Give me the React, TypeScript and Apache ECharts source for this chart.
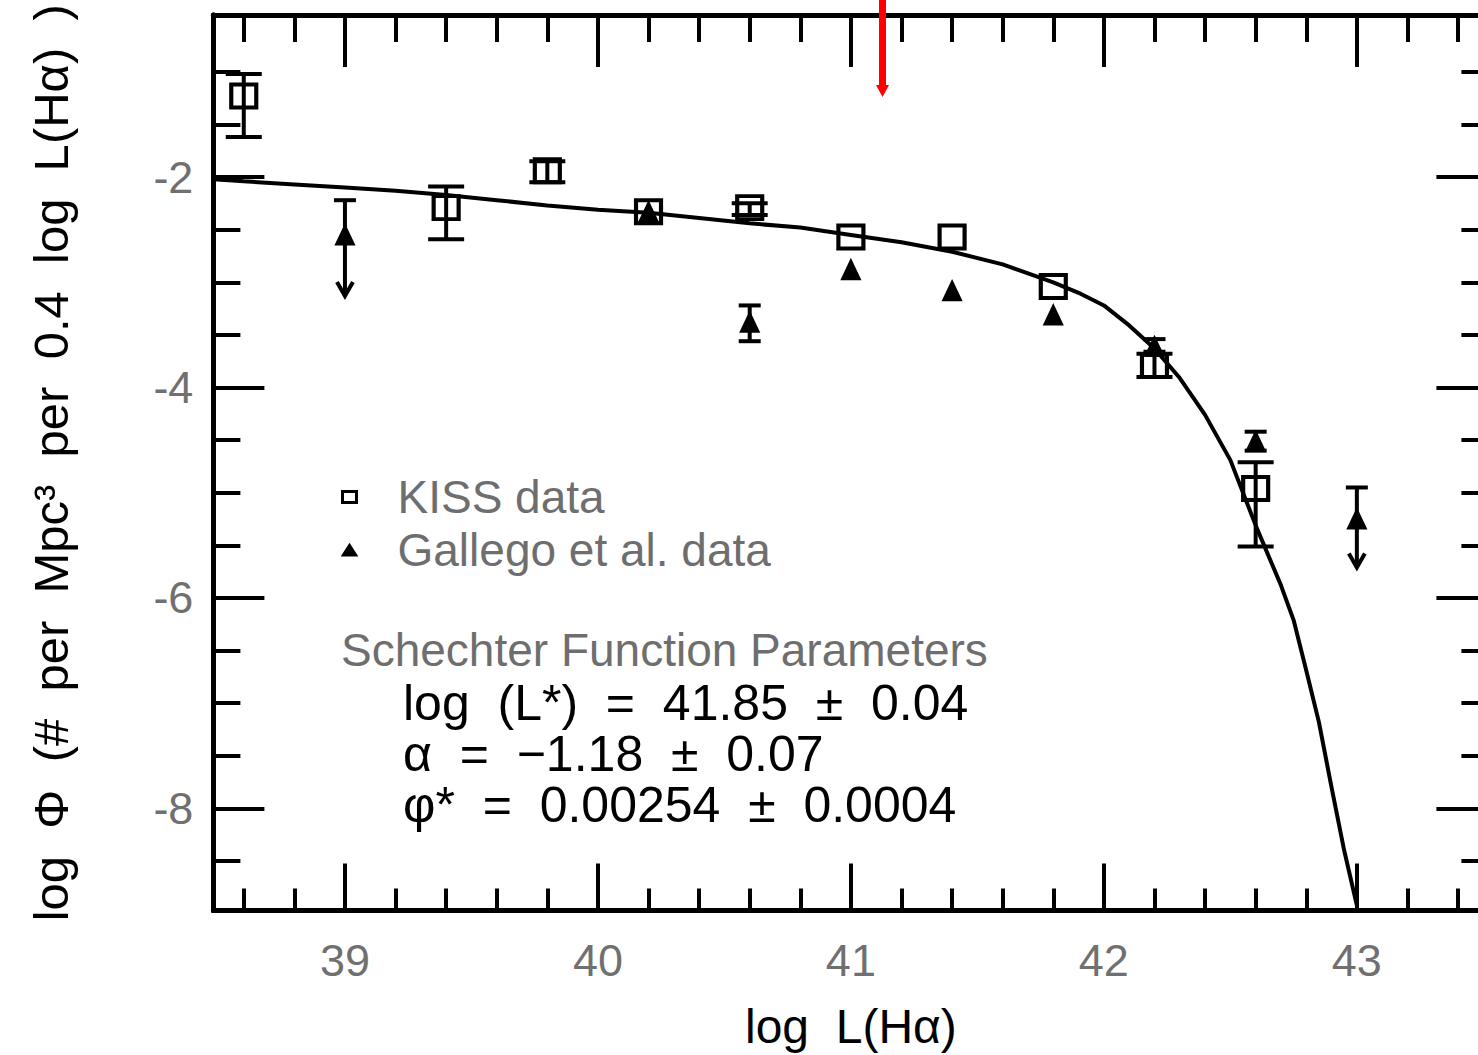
import React, { useEffect, useRef } from "react";
import * as echarts from "echarts";

const FONT = "'Liberation Sans', Arial, Helvetica, sans-serif";

// Axis ranges
const xMin = 38.48;
const xMax = 43.52;
const yMin = -8.97;
const yMax = -0.46;

// Tick positions / labels
const xMajorTicks = [39, 40, 41, 42, 43];
const xMinorTicks = [38.6, 38.8, 39.2, 39.4, 39.6, 39.8, 40.2, 40.4, 40.6, 40.8, 41.2, 41.4, 41.6, 41.8, 42.2, 42.4, 42.6, 42.8, 43.2, 43.4];
const yMajorTicks = [-8, -6, -4, -2];
const yMinorTicks = [-8.5, -7.5, -7, -6.5, -5.5, -5, -4.5, -3.5, -3, -2.5, -1.5, -1];

// Schechter fit curve
const curveX = [38.48, 38.6, 38.8, 39.0, 39.2, 39.4, 39.6, 39.8, 40.0, 40.2, 40.4, 40.6, 40.8, 41.0, 41.2, 41.4, 41.6, 41.8, 41.9, 42.0, 42.1, 42.2, 42.3, 42.4, 42.5, 42.6, 42.7, 42.75, 42.8, 42.85, 42.9, 42.95, 43.0];
const curveY = [-2.02, -2.04, -2.07, -2.1, -2.13, -2.17, -2.22, -2.27, -2.31, -2.34, -2.39, -2.44, -2.48, -2.55, -2.62, -2.71, -2.83, -3.0, -3.1, -3.22, -3.41, -3.63, -3.91, -4.26, -4.69, -5.31, -5.88, -6.21, -6.69, -7.18, -7.8, -8.4, -8.92];

// KISS data (open squares)
const kissX = [38.6, 39.4, 39.8, 40.2, 40.6, 41.0, 41.4, 41.8, 42.2, 42.6];
const kissY = [-1.23, -2.29, -1.94, -2.33, -2.29, -2.57, -2.57, -3.04, -3.79, -4.96];
const kissLo = [-1.62, -2.59, -2.05, -2.33, -2.36, -2.57, -2.57, -3.04, -3.9, -5.51];
const kissHi = [-1.02, -2.09, -1.85, -2.33, -2.25, -2.57, -2.57, -3.04, -3.68, -4.71];

// Gallego et al. data (triangles)
const galX = [39.0, 40.2, 40.6, 41.0, 41.4, 41.8, 42.2, 42.6, 43.0];
const galY = [-2.55, -2.33, -3.38, -2.88, -3.08, -3.31, -3.61, -4.51, -5.25];
const galLo = [-3.13, -2.33, -3.56, -2.88, -3.08, -3.31, -3.66, -4.6, -5.71];
const galHi = [-2.22, -2.33, -3.22, -2.88, -3.08, -3.31, -3.54, -4.42, -4.95];
const galLimit = [1, 0, 0, 0, 0, 0, 0, 0, 1];

// Red marker arrow
const arrowX = [41.125];
const arrowTop = [-0.3];
const arrowTip = [-1.24];

// Fit parameter annotation lines
const paramLines = ["log  (L*)  =  41.85  ±  0.04", "α  =  −1.18  ±  0.07", "φ*  =  0.00254  ±  0.0004"];

const makeErrorRender = (capHalf: number) => (params: any, api: any) => {
  const x = api.value(0);
  const lo = api.value(1);
  const hi = api.value(2);
  const lim = api.value(3);
  if (lo === hi) return null;
  const top = api.coord([x, hi]);
  const bot = api.coord([x, lo]);
  const style = { stroke: "#000", lineWidth: 4, fill: "none" };
  const children: any[] = [
    { type: "line", shape: { x1: top[0], y1: top[1], x2: bot[0], y2: bot[1] }, style },
    { type: "line", shape: { x1: top[0] - capHalf, y1: top[1], x2: top[0] + capHalf, y2: top[1] }, style },
  ];
  if (lim) {
    children.push({
      type: "polyline",
      shape: { points: [[bot[0] - 8, bot[1] - 14], [bot[0], bot[1]], [bot[0] + 8, bot[1] - 14]] },
      style,
    });
  } else {
    children.push({ type: "line", shape: { x1: bot[0] - capHalf, y1: bot[1], x2: bot[0] + capHalf, y2: bot[1] }, style });
  }
  return { type: "group", children };
};

const arrowRender = (params: any, api: any) => {
  const p0 = api.coord([api.value(0), api.value(1)]);
  const p1 = api.coord([api.value(0), api.value(2)]);
  return {
    type: "group",
    children: [
      { type: "rect", shape: { x: p0[0] - 3.5, y: p0[1], width: 7, height: p1[1] - p0[1] - 10 }, style: { fill: "#ff0000" } },
      { type: "polygon", shape: { points: [[p1[0] - 6.5, p1[1] - 12], [p1[0] + 6.5, p1[1] - 12], [p1[0], p1[1]]] }, style: { fill: "#ff0000" } },
    ],
  };
};

const tickLabelStyle = { fontSize: 45, color: "#707070", fontFamily: FONT };

const xAxisDef = (position: string, ticks: number[], len: number, extra: any = {}) => ({
  type: "value",
  position,
  min: xMin,
  max: xMax,
  axisLine: { show: true, onZero: false, lineStyle: { color: "#000", width: 5 } },
  axisTick: { show: true, inside: true, length: len, customValues: ticks, lineStyle: { color: "#000", width: 4 } },
  axisLabel: { show: false },
  splitLine: { show: false },
  ...extra,
});

const yAxisDef = (position: string, ticks: number[], len: number, extra: any = {}) => ({
  type: "value",
  position,
  min: yMin,
  max: yMax,
  axisLine: { show: true, onZero: false, lineStyle: { color: "#000", width: 5 } },
  axisTick: { show: true, inside: true, length: len, customValues: ticks, lineStyle: { color: "#000", width: 4 } },
  axisLabel: { show: false },
  splitLine: { show: false },
  ...extra,
});

export default function App() {
  const ref = useRef<HTMLDivElement>(null);
  useEffect(() => {
    if (!ref.current) return;
    const chart = echarts.init(ref.current, undefined, { renderer: "svg" });
    const option: any = {
      animation: false,
      backgroundColor: "#ffffff",
      grid: { left: 213.4, top: 15, width: 1275, height: 895.5, containLabel: false, outerBoundsMode: "none" },
      xAxis: [
        xAxisDef("bottom", xMajorTicks, 47, {
          axisLabel: { show: true, customValues: xMajorTicks, margin: 27, ...tickLabelStyle },
          name: "log  L(Hα)",
          nameLocation: "middle",
          nameGap: 92,
          nameTextStyle: { fontSize: 48, color: "#000", fontFamily: FONT },
        }),
        xAxisDef("bottom", xMinorTicks, 22),
        xAxisDef("top", xMajorTicks, 52),
        xAxisDef("top", xMinorTicks, 27),
      ],
      yAxis: [
        yAxisDef("left", yMajorTicks, 51, {
          axisLabel: { show: true, customValues: yMajorTicks, margin: 20, ...tickLabelStyle },
          name: "log  Φ  (#  per  Mpc³  per  0.4  log  L(Hα)  )",
          nameLocation: "middle",
          nameRotate: 90,
          nameGap: 138,
          nameTextStyle: { fontSize: 49, color: "#000", fontFamily: FONT },
        }),
        yAxisDef("left", yMinorTicks, 27),
        yAxisDef("right", yMajorTicks, 52),
        yAxisDef("right", yMinorTicks, 27),
      ],
      legend: {
        orient: "vertical",
        left: 336,
        top: 469,
        itemWidth: 14,
        itemHeight: 11,
        itemGap: 7,
        selectedMode: false,
        data: [
          { name: "KISS data", icon: "rect", itemStyle: { color: "#fff", borderColor: "#000", borderWidth: 3 } },
          { name: "Gallego et al. data", icon: "triangle", itemStyle: { color: "#000", borderColor: "#000", borderWidth: 2 } },
        ],
        formatter: (n: string) => `{t|${n}}`,
        textStyle: {
          rich: { t: { fontSize: 46, fontFamily: FONT, color: "#6e6e6e", padding: [0, 0, 0, 36], lineHeight: 46 } },
        },
      },
      graphic: [
        { type: "text", x: 341, y: 650, style: { text: "Schechter Function Parameters", fontSize: 46, lineHeight: 46, fontFamily: FONT, fill: "#6e6e6e", verticalAlign: "middle" } },
        {
          type: "text",
          x: 403,
          y: 754,
          style: { text: paramLines.join("\n"), fontSize: 50, lineHeight: 51, fontFamily: FONT, fill: "#000", verticalAlign: "middle" },
        },
      ],
      series: [
        {
          name: "Schechter fit",
          type: "line",
          data: curveX.map((x, i) => [x, curveY[i]]),
          showSymbol: false,
          symbol: "none",
          lineStyle: { color: "#000", width: 4 },
          z: 2,
        },
        {
          name: "KISS errors",
          type: "custom",
          renderItem: makeErrorRender(18),
          data: kissX.map((x, i) => [x, kissLo[i], kissHi[i], 0]),
          encode: { x: 0, y: [1, 2] },
          z: 3,
        },
        {
          name: "Gallego errors",
          type: "custom",
          renderItem: makeErrorRender(11),
          data: galX.map((x, i) => [x, galLo[i], galHi[i], galLimit[i]]),
          encode: { x: 0, y: [1, 2] },
          z: 3,
        },
        {
          name: "KISS data",
          type: "scatter",
          symbol: "rect",
          symbolSize: [25, 23],
          data: kissX.map((x, i) => [x, kissY[i]]),
          itemStyle: { color: "rgba(0,0,0,0)", borderColor: "#000", borderWidth: 4, opacity: 1 },
          z: 4,
        },
        {
          name: "Gallego et al. data",
          type: "scatter",
          symbol: "triangle",
          symbolSize: [18, 19],
          data: galX.map((x, i) => [x, galY[i]]),
          itemStyle: { color: "#000", borderColor: "#000", borderWidth: 2, opacity: 1 },
          z: 5,
        },
        {
          name: "marker arrow",
          type: "custom",
          renderItem: arrowRender,
          data: arrowX.map((x, i) => [x, arrowTop[i], arrowTip[i]]),
          encode: { x: 0, y: [1, 2] },
          clip: false,
          z: 10,
        },
      ],
    };
    chart.setOption(option);
    return () => chart.dispose();
  }, []);

  return (
    <div style={{ position: "fixed", left: 0, top: 0, width: 1478, height: 1055, overflow: "hidden", background: "#fff" }}>
      <div ref={ref} style={{ width: 1500, height: 1055 }} />
    </div>
  );
}
